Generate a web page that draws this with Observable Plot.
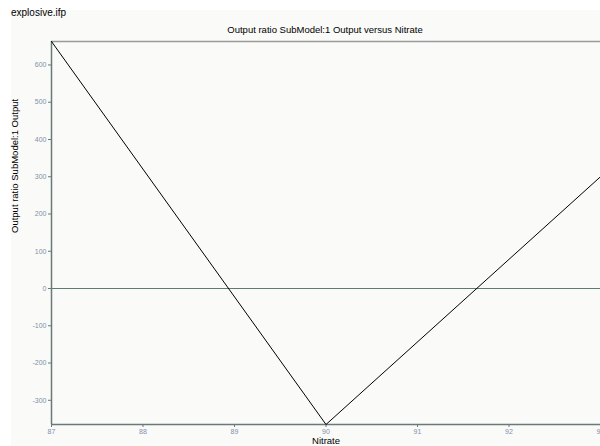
<!DOCTYPE html>
<html>
<head>
<meta charset="utf-8">
<script src="https://cdn.jsdelivr.net/npm/d3@7"></script>
<script src="https://cdn.jsdelivr.net/npm/@observablehq/plot@0.6"></script>
<style>
  html, body { margin: 0; padding: 0; background: #ffffff; overflow: hidden; width: 600px; height: 446px; }
  #wrap { position: relative; width: 600px; height: 446px; font-family: "Liberation Sans", Arial, sans-serif; }
  #bg { position: absolute; left: 11px; top: 10px; width: 589px; height: 436px; background: #fafaf8; }
  #file { position: absolute; left: 11px; top: 7px; font-size: 10px; color: #000; }
  #title { position: absolute; left: 0; width: 650px; top: 24px; text-align: center; font-size: 9.5px; color: #000; }
  #chart { position: absolute; left: 0; top: 0; }
  #chart svg { background: transparent !important; overflow: hidden; }
</style>
</head>
<body>
<div id="wrap">
  <div id="bg"></div>
  <div id="file">explosive.ifp</div>
  <div id="title">Output ratio SubModel:1 Output versus Nitrate</div>
  <div id="chart"></div>
</div>
<script>
const nitrate = [87, 90, 93];
const output = [663, -365, 300];
const xTicks = [87, 88, 89, 90, 91, 92, 93];
const yTicks = [-300, -200, -100, 0, 100, 200, 300, 400, 500, 600];
const xLabel = "Nitrate";
const yLabel = "Output ratio SubModel:1 Output";

const data = nitrate.map((n, i) => ({n, v: output[i]}));
const xDom = [87, 93];
const yDom = [-365, 663];

const chart = Plot.plot({
  width: 600,
  height: 446,
  marginLeft: 51,
  marginRight: 0,
  marginTop: 41,
  marginBottom: 22,
  style: { background: "transparent", fontFamily: "Liberation Sans, Arial, sans-serif" },
  x: { domain: xDom },
  y: { domain: yDom },
  marks: [
    Plot.ruleY([yDom[1]], { stroke: "#9a9a9a", strokeWidth: 1.5 }),
    Plot.ruleY([0], { stroke: "#5f7a74", strokeWidth: 1 }),
    Plot.ruleX([xDom[0]], { stroke: "#6a7a78", strokeWidth: 1.5 }),
    Plot.ruleY([yDom[0]], { stroke: "#6a7a78", strokeWidth: 1.5 }),
    Plot.axisX({ ticks: xTicks, tickSize: 3, tickPadding: 2, fontSize: 7, fill: "#8090a8", stroke: "#6a7a78", label: null, tickFormat: d => String(d) }),
    Plot.axisY({ ticks: yTicks, tickSize: 3, tickPadding: 2, fontSize: 7, fill: "#8090a8", stroke: "#6a7a78", label: null, tickFormat: d => String(d) }),
    Plot.text([xLabel], { frameAnchor: "bottom", dy: 19, fontSize: 9.5, fill: "#000" }),
    Plot.text([yLabel], { frameAnchor: "left", dx: -37, rotate: -90, fontSize: 9.5, fill: "#000" }),
    Plot.line(data, { x: "n", y: "v", stroke: "#000", strokeWidth: 1 })
  ]
});
document.getElementById("chart").appendChild(chart);
</script>
</body>
</html>
